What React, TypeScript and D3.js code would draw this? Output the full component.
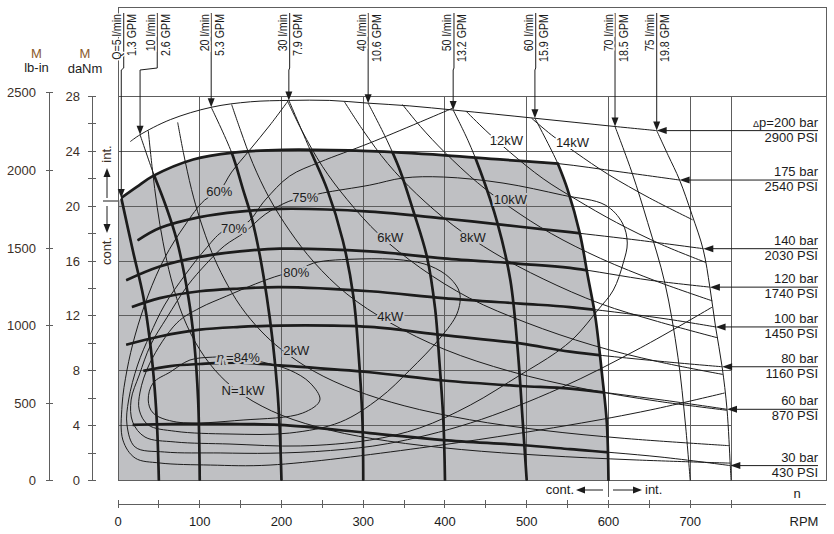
import React from "react";
import * as d3 from "d3";

type Pt = [number, number];

// ---------- axes ----------
const rpmTicks = [0, 50, 100, 150, 200, 250, 300, 350, 400, 450, 500, 550, 600, 650, 700, 750];
const rpmLabels = [0, 100, 200, 300, 400, 500, 600, 700];
const rpmGrid = [100, 200, 300, 400, 500, 600, 700, 750];
const torqueTicks = [0, 2, 4, 6, 8, 10, 12, 14, 16, 18, 20, 22, 24, 26, 28];
const torqueLabels = [0, 4, 8, 12, 16, 20, 24, 28];
const torqueGrid = [0, 4, 8, 12, 16, 20, 24];
const lbinLabels = [0, 500, 1000, 1500, 2000, 2500];
const LBIN_PER_DANM = 88.507;

// ---------- flow (Q) lines: [rpm, daNm] ----------
const flowRates = [5, 10, 20, 30, 40, 50, 60, 70, 75];
const flowGpm = ["1.3", "2.6", "5.3", "7.9", "10.6", "13.2", "15.9", "18.5", "19.8"];
const flowLabelRpm = [7, 48, 114, 210, 306, 411, 511, 608, 659];
const q5: Pt[] = [[4, 20.6], [18, 16.8], [31, 13.4], [39, 10.2], [45, 6.6], [48, 3.7], [50, 0]];
const q10: Pt[] = [[27, 25.2], [42, 22.6], [58, 20.1], [72, 17.5], [86, 13.4], [93, 10.2], [98, 5.9], [100, 0]];
const q20: Pt[] = [[114, 27.2], [139, 23.9], [153, 21.2], [165, 18.8], [182, 13.4], [195, 6.6], [200, 0]];
const q30: Pt[] = [[209, 27.7], [235, 24.1], [256, 21.2], [275, 17.5], [288, 13.4], [294, 9.5], [299, 4.4], [300, 0]];
const q40: Pt[] = [[306, 27.5], [329, 24.8], [345, 22.6], [361, 19.7], [378, 16.3], [388, 12.5], [393, 8.8], [398, 4.4], [400, 0]];
const q50: Pt[] = [[410, 27.0], [428, 24.8], [443, 22.6], [464, 18.8], [480, 14.6], [489, 9.5], [495, 4.4], [500, 0]];
const q60: Pt[] = [[510, 26.4], [538, 23.1], [550, 21.2], [565, 18.0], [575, 14.8], [584, 11.9], [592, 7.8], [598, 4.2], [600, 0]];
const q70: Pt[] = [[608, 25.8], [629, 22.4], [648, 18.8], [669, 14.4], [685, 9.0], [694, 4.2], [700, 0]];
const q75: Pt[] = [[659, 25.5], [673, 23.7], [687, 21.9], [702, 19.4], [716, 16.8], [724, 14.1], [731, 11.2], [739, 8.3], [745, 5.2], [749, 1.1], [750, 0]];

// ---------- pressure (Δp) lines ----------
const pressureBar = [200, 175, 140, 120, 100, 80, 60, 30];
const pressurePsi = [2900, 2540, 2030, 1740, 1450, 1160, 870, 430];
const p200: Pt[] = [[15, 24.7], [27, 25.2], [64, 26.3], [114, 27.2], [162, 27.6], [209, 27.7], [259, 27.7], [306, 27.5], [357, 27.3], [410, 27.0], [461, 26.7], [510, 26.4], [559, 26.1], [608, 25.8], [659, 25.5]];
const p175: Pt[] = [[4, 20.6], [23, 21.4], [43, 22.2], [92, 23.4], [141, 23.9], [202, 24.1], [308, 24.0], [400, 23.7], [467, 23.4], [538, 23.1], [614, 22.5], [687, 21.9]];
const p140: Pt[] = [[24, 17.5], [51, 18.4], [100, 19.2], [149, 19.6], [198, 19.8], [308, 19.6], [398, 19.1], [492, 18.5], [553, 18.1], [639, 17.5], [716, 16.9]];
const p120: Pt[] = [[10, 14.6], [51, 15.6], [100, 16.3], [149, 16.7], [198, 16.9], [308, 16.7], [398, 16.2], [492, 15.8], [553, 15.5], [651, 14.6], [724, 14.1]];
const p100: Pt[] = [[17, 12.65], [51, 13.3], [100, 13.8], [149, 14.0], [198, 14.1], [308, 13.8], [398, 13.3], [492, 12.9], [553, 12.65], [663, 11.85], [731, 11.2]];
const p80: Pt[] = [[10, 9.9], [51, 10.5], [100, 11.0], [149, 11.2], [198, 11.3], [308, 11.2], [398, 10.6], [492, 10.0], [553, 9.4], [663, 8.7], [739, 8.3]];
const p60: Pt[] = [[31, 8.0], [64, 8.35], [100, 8.5], [149, 8.6], [198, 8.4], [308, 7.9], [398, 7.3], [492, 6.9], [553, 6.7], [663, 5.9], [745, 5.2]];
const p30: Pt[] = [[18, 4.06], [64, 4.13], [100, 4.13], [149, 4.13], [198, 4.06], [308, 3.47], [398, 2.96], [492, 2.6], [553, 2.3], [663, 1.73], [749, 1.1]];

// ---------- output power lines ----------
const powerKW = [1, 2, 4, 6, 8, 10, 12, 14];
const kw1: Pt[] = [[37, 25.5], [42, 22.7], [48, 19.9], [55, 17.4], [65, 14.7], [80, 11.9], [100, 9.55], [125, 7.64], [155, 6.16], [200, 4.77], [260, 3.67], [330, 2.89], [420, 2.27], [520, 1.84], [630, 1.52], [749, 1.28]];
const kw2: Pt[] = [[73, 26.1], [80, 23.9], [90, 21.2], [100, 19.1], [115, 16.6], [130, 14.7], [150, 12.7], [175, 10.9], [200, 9.55], [240, 7.96], [290, 6.59], [350, 5.46], [430, 4.44], [520, 3.67], [620, 3.08], [748, 2.55]];
const kw4: Pt[] = [[139, 27.4], [150, 25.5], [165, 23.1], [185, 20.6], [210, 18.2], [240, 15.9], [280, 13.6], [333, 11.5], [400, 9.55], [480, 7.96], [570, 6.7], [660, 5.79], [745, 5.13]];
const kw6: Pt[] = [[207, 27.7], [225, 25.5], [250, 22.9], [280, 20.5], [320, 17.9], [370, 15.5], [430, 13.3], [500, 11.5], [580, 9.88], [660, 8.68], [740, 7.74]];
const kw8: Pt[] = [[277, 27.6], [300, 25.5], [330, 23.1], [365, 20.9], [410, 18.6], [460, 16.6], [520, 14.7], [590, 12.9], [660, 11.6], [734, 10.4]];
const kw10: Pt[] = [[348, 27.4], [370, 25.8], [400, 23.9], [440, 21.7], [480, 19.9], [530, 18.0], [590, 16.2], [660, 14.5], [727, 13.1]];
const kw12: Pt[] = [[426, 26.9], [450, 25.5], [480, 23.9], [520, 22.0], [560, 20.5], [610, 18.8], [665, 17.2], [719, 15.9]];
const kw14: Pt[] = [[506, 26.4], [530, 25.2], [560, 23.9], [600, 22.3], [650, 20.6], [703, 19.0]];
const powerLabelAt: Pt[] = [[153, 6.6], [218, 9.5], [333, 12.0], [333, 17.7], [434, 17.7], [480, 20.5], [475, 24.8], [556, 24.65]];

// ---------- total efficiency contours ----------
const eta84: Pt[] = [[147, 9.0], [176, 8.65], [210, 8.06], [235, 7.12], [247, 5.88], [226, 4.93], [153, 4.42], [72, 4.27], [43, 4.93], [37, 5.88], [43, 7.12], [64, 7.92], [88, 8.79], [116, 9.0]];
const eta80: Pt[] = [[218, 15.2], [239, 15.85], [296, 16.15], [349, 16.07], [382, 15.64], [406, 14.76], [418, 13.67], [415, 12.21], [394, 10.39], [357, 8.06], [320, 6.02], [272, 4.27], [210, 3.47], [137, 3.4], [70, 3.6], [37, 4.06], [26, 5.15], [27, 6.46], [39, 8.57], [72, 11.49], [100, 12.58], [133, 13.45], [168, 14.33], [199, 14.98]];
const eta75: Pt[] = [[229, 20.65], [250, 20.95], [308, 21.53], [349, 22.05], [398, 22.12], [471, 21.68], [544, 20.8], [596, 20.08], [617, 18.77], [623, 17.31], [618, 15.85], [606, 13.89], [587, 12.43], [559, 10.46], [535, 9.3], [492, 7.7], [431, 5.51], [369, 3.84], [308, 2.96], [223, 2.53], [137, 2.67], [70, 2.82], [33, 3.18], [18, 4.27], [16, 5.88], [26, 7.7], [40, 9.9], [60, 11.9], [85, 14.2], [108, 15.8], [130, 17.1], [155, 18.1], [180, 19.4], [209, 20.35]];
const eta70: Pt[] = [[410, 27.15], [308, 24.6], [247, 23.21], [210, 22.19], [180, 20.44], [159, 18.84], [142, 18.4], [127, 18.11], [106, 16.8], [82, 14.98], [57, 12.8], [39, 10.61], [24, 8.43], [13, 5.88], [11, 4.06], [21, 2.45], [57, 2.09], [125, 2.02], [186, 2.0], [260, 2.2], [330, 2.7], [431, 4.2], [541, 6.75], [639, 9.67], [727, 12.65]];
const eta60: Pt[] = [[208, 27.66], [186, 25.91], [161, 24.08], [139, 22.48], [124, 21.1], [106, 20.44], [82, 18.62], [57, 16.22], [37, 13.52], [21, 10.61], [11, 8.06], [5, 5.51], [6, 2.96], [21, 1.65], [51, 1.29], [113, 1.14], [186, 1.14], [369, 2.38], [553, 4.06], [651, 5.15], [742, 6.39]];
const effLabelText = ["84%", "80%", "75%", "70%", "60%"];
const effLabelAt: Pt[] = [[147, 9.0], [218, 15.2], [229, 20.65], [142, 18.4], [124, 21.1]];

const FONT = "'Liberation Sans', Arial, Helvetica, sans-serif";
const INK = "#1c1c1c";
const GREY = "#bfc0c3";
const GRID = "#5e5e5e";

export default function App() {
  const x = d3.scaleLinear().domain([0, 750]).range([118, 731.1]);
  const y = d3.scaleLinear().domain([0, 28]).range([480.7, 96.3]);
  const yLb = d3.scaleLinear().domain([0, 28 * LBIN_PER_DANM]).range([480.7, 96.3]);
  const line = d3.line<Pt>().x((d) => x(d[0])).y((d) => y(d[1])).curve(d3.curveCatmullRom.alpha(0.5));
  const loop = d3.line<Pt>().x((d) => x(d[0])).y((d) => y(d[1])).curve(d3.curveCatmullRomClosed.alpha(0.5));

  const flowLines = [q5, q10, q20, q30, q40, q50, q60, q70, q75];
  const pressureLines = [p200, p175, p140, p120, p100, p80, p60, p30];
  const powerLines = [kw1, kw2, kw4, kw6, kw8, kw10, kw12, kw14];

  const cornerT = 23.1;
  const p175In = p175.filter((d) => d[0] <= 538);
  const q60In = q60.filter((d) => d[1] <= cornerT);
  const topEdge = line(p175In) as string;
  const rightEdge = line(q60In) as string;
  const greyPath = `M${x(0)},${y(0)}L${x(0)},${y(20.3)}L${topEdge.slice(1)}L${rightEdge.slice(1)}L${x(600)},${y(0)}Z`;
  const boundaryPath = `${topEdge}L${rightEdge.slice(1)}`;
  const greyPoly: [number, number][] = [
    [x(0), y(0)],
    [x(0), y(20.3)],
    ...p175In.map((d) => [x(d[0]), y(d[1])] as [number, number]),
    ...q60In.map((d) => [x(d[0]), y(d[1])] as [number, number]),
    [x(600), y(0)],
  ];
  const bgAt = (p: Pt) => (d3.polygonContains(greyPoly, [x(p[0]), y(p[1])]) ? GREY : "#ffffff");

  const thickFlows = flowLines.filter((_, i) => flowRates[i] <= 50);
  const thickPress = pressureLines.filter((_, i) => pressureBar[i] <= 140);

  const labelRight = 818;
  const txt = { fontFamily: FONT, fontSize: 13, fill: INK } as const;

  return (
    <svg width={834} height={534} style={{ position: "absolute", left: 0, top: 0, background: "#fff" }}>
      <defs>
        <clipPath id="greyClip">
          <path d={greyPath} />
        </clipPath>
      </defs>
      <rect x={0} y={0} width={834} height={534} fill="#fff" />
      <path d={greyPath} fill={GREY} stroke="none" />

      {/* grid */}
      <g stroke={GRID} strokeWidth={1} shapeRendering="crispEdges">
        {torqueGrid.map((t) => (
          <line key={"h" + t} x1={x(0)} x2={x(750)} y1={y(t)} y2={y(t)} />
        ))}
        <line x1={x(0)} x2={826} y1={y(28)} y2={y(28)} />
        {rpmGrid.map((r) => (
          <line key={"v" + r} x1={x(r)} x2={x(r)} y1={y(28)} y2={r === 600 ? 497 : y(0)} />
        ))}
      </g>
      {/* frame */}
      <g stroke={GRID} strokeWidth={1} fill="none" shapeRendering="crispEdges">
        <line x1={118} x2={826} y1={7} y2={7} />
        <line x1={826} x2={826} y1={7} y2={y(0)} />
        <line x1={118} x2={118} y1={7} y2={y(0)} />
        <line x1={118} x2={826} y1={y(0)} y2={y(0)} />
      </g>

      {/* thin lines */}
      <g fill="none" stroke={INK} strokeWidth={1}>
        {flowLines.map((d, i) => <path key={"qf" + i} d={line(d) as string} />)}
        {pressureLines.map((d, i) => <path key={"pf" + i} d={line(d) as string} />)}
        {powerLines.map((d, i) => <path key={"kw" + i} d={line(d) as string} />)}
        {[eta84, eta80, eta75].map((d, i) => <path key={"el" + i} d={loop(d) as string} />)}
        {[eta70, eta60].map((d, i) => <path key={"eo" + i} d={line(d) as string} />)}
      </g>
      {/* thick lines inside the continuous area */}
      <g fill="none" stroke={INK} strokeWidth={2.7} clipPath="url(#greyClip)">
        {thickFlows.map((d, i) => <path key={"qt" + i} d={line(d) as string} />)}
        {thickPress.map((d, i) => <path key={"pt" + i} d={line(d) as string} />)}
      </g>
      <path d={boundaryPath} fill="none" stroke={INK} strokeWidth={2.7} />

      {/* flow labels */}
      {flowRates.map((q, i) => {
        const lx = x(flowLabelRpm[i]);
        const tip = flowLines[i][0];
        const tx = x(tip[0]);
        const ty = y(tip[1]);
        return (
          <g key={"fl" + i}>
            <path d={`M${lx},13L${lx},68L${tx},70L${tx},${ty - 8}`} fill="none" stroke={INK} strokeWidth={1} />
            <polygon points={`${tx},${ty} ${tx - 3.5},${ty - 9} ${tx + 3.5},${ty - 9}`} fill={INK} />
            <text
              transform={`translate(${lx - 2.5},14) rotate(-90) scale(0.82,1)`}
              textAnchor="end"
              stroke="#fff"
              strokeWidth={3}
              paintOrder="stroke"
              {...txt}
            >
              {i === 0 ? `Q=${q} l/min` : `${q} l/min`}
            </text>
            <text transform={`translate(${lx + 12.5},14) rotate(-90) scale(0.82,1)`} textAnchor="end" {...txt}>
              {`${flowGpm[i]} GPM`}
            </text>
          </g>
        );
      })}

      {/* pressure labels */}
      {pressureBar.map((p, i) => {
        const tip = pressureLines[i][pressureLines[i].length - 1];
        const tx = x(tip[0]);
        const ty = y(tip[1]);
        return (
          <g key={"pl" + i}>
            <line x1={tx + 8} x2={labelRight} y1={ty} y2={ty} stroke={INK} strokeWidth={1} />
            <polygon points={`${tx},${ty} ${tx + 10},${ty - 3.5} ${tx + 10},${ty + 3.5}`} fill={INK} />
            <text x={labelRight} y={ty - 4} textAnchor="end" {...txt}>
              {i === 0 ? (
                <>
                  <tspan fontSize={9}>{"\u0394"}</tspan>
                  {`p=${p} bar`}
                </>
              ) : (
                `${p} bar`
              )}
            </text>
            <text x={labelRight} y={ty + 11} textAnchor="end" {...txt}>
              {`${pressurePsi[i]} PSI`}
            </text>
          </g>
        );
      })}

      {/* power labels */}
      {powerKW.map((k, i) => {
        const at = powerLabelAt[i];
        return (
          <text
            key={"kl" + i}
            x={x(at[0])}
            y={y(at[1])}
            dy="0.36em"
            textAnchor="middle"
            stroke={bgAt(at)}
            strokeWidth={4}
            paintOrder="stroke"
            {...txt}
          >
            {i === 0 ? `N=${k}kW` : `${k}kW`}
          </text>
        );
      })}

      {/* efficiency labels */}
      {effLabelText.map((t, i) => {
        const at = effLabelAt[i];
        return (
          <text
            key={"ek" + i}
            x={x(at[0])}
            y={y(at[1])}
            dy="0.36em"
            textAnchor="middle"
            stroke={bgAt(at)}
            strokeWidth={4}
            paintOrder="stroke"
            {...txt}
          >
            {i === 0 ? (
              <>
                <tspan fontStyle="italic">{"\u03b7"}</tspan>
                <tspan fontSize={8} dy={3}>t</tspan>
                <tspan dy={-3}>{`=${t}`}</tspan>
              </>
            ) : (
              t
            )}
          </text>
        );
      })}

      {/* int / cont markers on the left */}
      <g stroke={INK} strokeWidth={1}>
        <line x1={103} x2={118} y1={201} y2={201} />
        <line x1={107} x2={107} y1={198} y2={176} />
        <line x1={107} x2={107} y1={206} y2={225} />
      </g>
      <polygon points="107,168 103.5,177 110.5,177" fill={INK} />
      <polygon points="107,233 103.5,224 110.5,224" fill={INK} />
      <text transform="translate(111,154) rotate(-90)" textAnchor="middle" {...txt} fill="#3b3028">int.</text>
      <text transform="translate(111,251) rotate(-90)" textAnchor="middle" {...txt} fill="#3b3028">cont.</text>

      {/* bottom cont / int markers */}
      <text x={574} y={494} textAnchor="end" {...txt}>cont.</text>
      <line x1={603} x2={584} y1={490} y2={490} stroke={INK} strokeWidth={1} />
      <polygon points="576,490 585,486.5 585,493.5" fill={INK} />
      <line x1={613} x2={634} y1={490} y2={490} stroke={INK} strokeWidth={1} />
      <polygon points="642,490 633,486.5 633,493.5" fill={INK} />
      <text x={645} y={494} {...txt}>int.</text>

      {/* rpm axis */}
      <g stroke={GRID} strokeWidth={1} shapeRendering="crispEdges">
        <line x1={x(0)} x2={826} y1={504} y2={504} />
        {rpmTicks.map((r) => (
          <line key={"rt" + r} x1={x(r)} x2={x(r)} y1={500} y2={508} />
        ))}
      </g>
      {rpmLabels.map((r) => (
        <text key={"rl" + r} x={x(r)} y={526} textAnchor="middle" {...txt}>
          {r}
        </text>
      ))}
      <text x={797} y={498} textAnchor="middle" {...txt}>n</text>
      <text x={804} y={526} textAnchor="middle" {...txt}>RPM</text>

      {/* lb-in axis */}
      <g stroke={GRID} strokeWidth={1} shapeRendering="crispEdges">
        <line x1={49} x2={49} y1={yLb(2500)} y2={yLb(0)} />
        {lbinLabels.map((v) => (
          <line key={"lt" + v} x1={45.5} x2={52.5} y1={yLb(v)} y2={yLb(v)} />
        ))}
      </g>
      {lbinLabels.map((v) => (
        <text key={"ll" + v} x={36} y={yLb(v) + 4.5} textAnchor="end" {...txt} fill="#3b3028">
          {v}
        </text>
      ))}
      {/* daNm axis */}
      <g stroke={GRID} strokeWidth={1} shapeRendering="crispEdges">
        <line x1={92} x2={92} y1={y(28)} y2={y(0)} />
        {torqueTicks.map((v) => (
          <line key={"dt" + v} x1={88} x2={96} y1={y(v)} y2={y(v)} />
        ))}
      </g>
      {torqueLabels.map((v) => (
        <text key={"dl" + v} x={80} y={y(v) + 4.5} textAnchor="end" {...txt} fill="#3b3028">
          {v}
        </text>
      ))}
      <text x={36.5} y={58} textAnchor="middle" {...txt} fill="#8b5a2b">M</text>
      <text x={36.5} y={72} textAnchor="middle" {...txt}>lb-in</text>
      <text x={85} y={58} textAnchor="middle" {...txt} fill="#8b5a2b">M</text>
      <text x={85} y={73} textAnchor="middle" {...txt}>daNm</text>
    </svg>
  );
}
